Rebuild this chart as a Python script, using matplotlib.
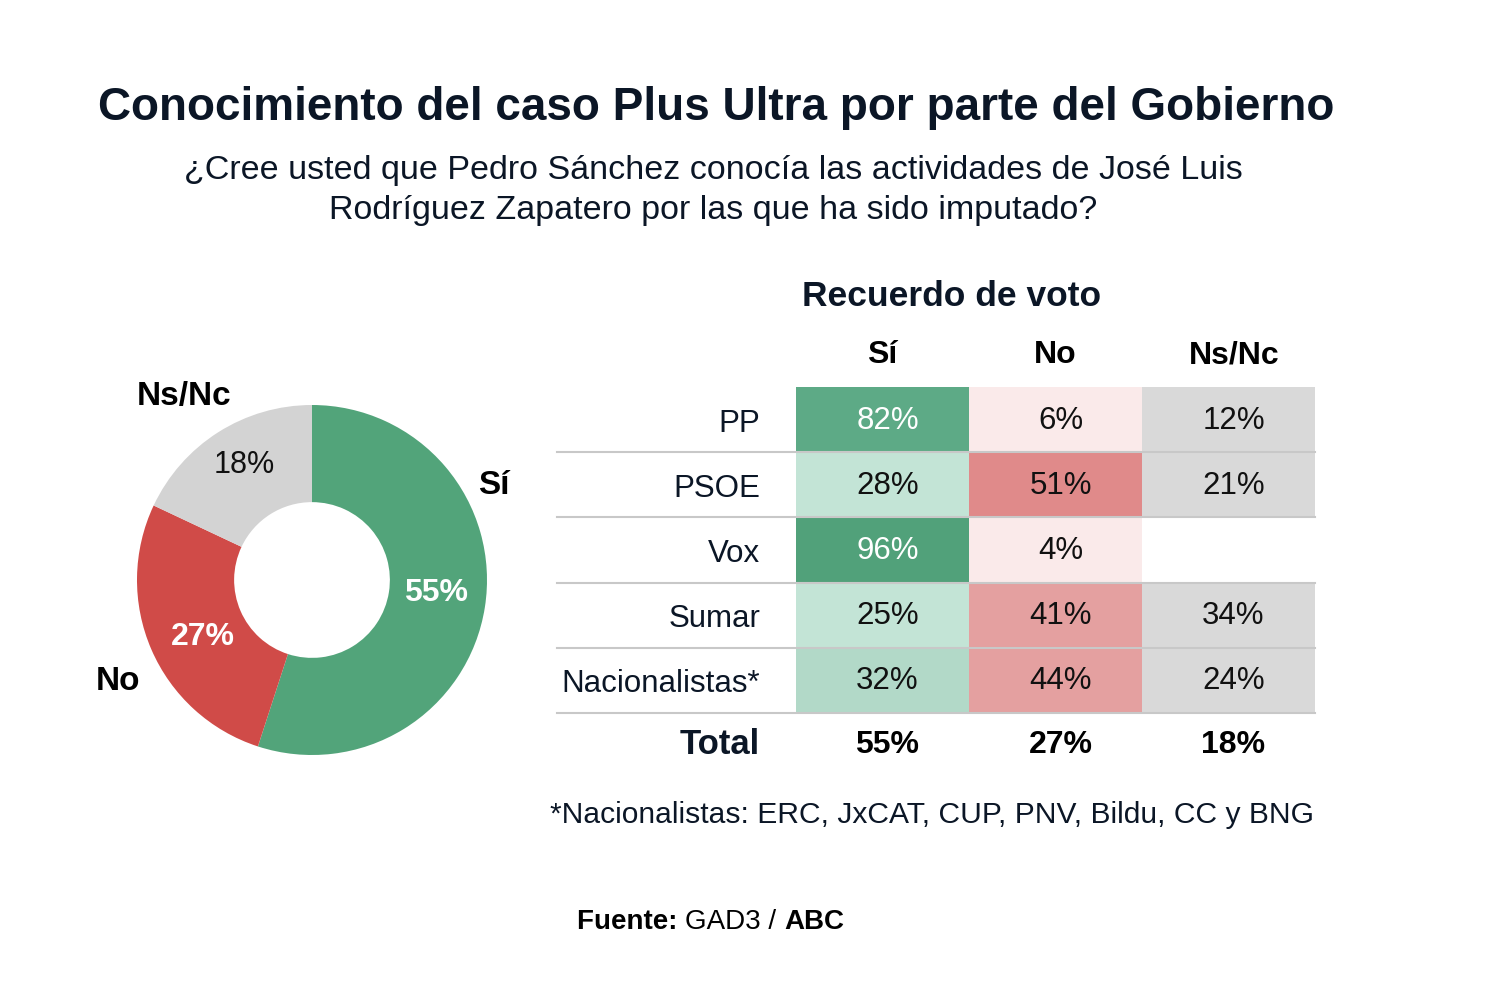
import numpy as np
import matplotlib.pyplot as plt
from matplotlib.patches import Rectangle

plt.rcParams['font.family'] = ['Liberation Sans', 'DejaVu Sans']

# datos del gráfico circular
pie_labels = ["Sí", "No", "Ns/Nc"]
pie_values = [55, 27, 18]
pie_colors = ["#52A47A", "#D04B48", "#D3D3D3"]

# datos de la tabla (recuerdo de voto)
parties = ["PP", "PSOE", "Vox", "Sumar", "Nacionalistas*"]
columns = ["Sí", "No", "Ns/Nc"]
si_vals = [82, 28, 96, 25, 32]
no_vals = [6, 51, 4, 41, 44]
ns_vals = [12, 21, None, 34, 24]
totals = [55, 27, 18]

si_colors = ["#5DAA86", "#C3E4D6", "#51A17A", "#C3E4D6", "#B2D9C8"]
no_colors = ["#FAEAEA", "#E08A8A", "#FAEAEA", "#E4A0A0", "#E4A0A0"]
ns_colors = ["#D9D9D9", "#D9D9D9", "#FFFFFF", "#D9D9D9", "#D9D9D9"]
si_text = ["white", "#111111", "white", "#111111", "#111111"]

navy = "#0B1626"

fig = plt.figure(figsize=(14.9, 10), dpi=100)
ax = fig.add_axes([0, 0, 1, 1])
ax.set_xlim(0, 1490)
ax.set_ylim(1000, 0)
ax.axis("off")

# titulos
ax.text(716, 108, "Conocimiento del caso Plus Ultra por parte del Gobierno",
        ha="center", va="center", fontsize=33, fontweight="bold", color=navy)
ax.text(713, 171, "¿Cree usted que Pedro Sánchez conocía las actividades de José Luis",
        ha="center", va="center", fontsize=24.5, color=navy)
ax.text(713, 211, "Rodríguez Zapatero por las que ha sido imputado?",
        ha="center", va="center", fontsize=24.5, color=navy)

# donut
axp = fig.add_axes([137 / 1490, 0.245, 350 / 1490, 0.35])
wedges, _ = axp.pie(pie_values, colors=pie_colors, startangle=90, counterclock=False,
                    radius=1, wedgeprops=dict(width=0.555, edgecolor="none"))
axp.set_xlim(-1, 1)
axp.set_ylim(-1, 1)
axp.set_aspect("equal")
axp.axis("off")
pct_offset = {"Sí": (0.0, 0.04), "No": (0.04, -0.04), "Ns/Nc": (0.0, 0.05)}
for w, v, lab in zip(wedges, pie_values, pie_labels):
    mid = np.deg2rad((w.theta1 + w.theta2) / 2)
    dx, dy = pct_offset[lab]
    x, y = 0.72 * np.cos(mid) + dx, 0.72 * np.sin(mid) + dy
    if lab == "Ns/Nc":
        axp.text(x, y, f"{v}%", ha="center", va="center", fontsize=22, color="#111111")
    else:
        axp.text(x, y, f"{v}%", ha="center", va="center", fontsize=23,
                 fontweight="bold", color="white")
outer_pos = {"Sí": (1.04, 0.54), "No": (-1.11, -0.58), "Ns/Nc": (-0.73, 1.05)}
for lab in pie_labels:
    axp.text(*outer_pos[lab], lab, ha="center", va="center", fontsize=24,
             fontweight="bold", color="black", clip_on=False)

# tabla
x0, cw = 796, 173
y0, rh = 387, 65.2
ax.text(952, 297, "Recuerdo de voto", ha="center", va="center",
        fontsize=25.5, fontweight="bold", color=navy)
head_dx = [0, 0, 6]
for j, c in enumerate(columns):
    ax.text(x0 + cw * j + cw / 2 + head_dx[j], 355, c, ha="center", va="center",
            fontsize=23, fontweight="bold", color="black")

cols_vals = [si_vals, no_vals, ns_vals]
cols_colors = [si_colors, no_colors, ns_colors]
for i, p in enumerate(parties):
    yt = y0 + rh * i
    ax.text(760, yt + rh / 2 + 4, p, ha="right", va="center", fontsize=22.5, color=navy)
    for j in range(3):
        ax.add_patch(Rectangle((x0 + cw * j, yt), cw, rh, color=cols_colors[j][i], lw=0))
        v = cols_vals[j][i]
        if v is not None:
            tc = si_text[i] if j == 0 else "#111111"
            ax.text(x0 + cw * j + cw / 2 + 5, yt + rh / 2 + 1, f"{v}%", ha="center",
                    va="center", fontsize=22.5, color=tc)
    ax.plot([557, 1315], [yt + rh, yt + rh], color="#C8C8C8", lw=1.5)

yt = y0 + rh * 5
ax.text(760, yt + 32, "Total", ha="right", va="center", fontsize=25,
        fontweight="bold", color=navy)
for j, t in enumerate(totals):
    ax.text(x0 + cw * j + cw / 2 + 5, yt + 32, f"{t}%", ha="center", va="center",
            fontsize=23, fontweight="bold", color="black")

ax.text(550, 815, "*Nacionalistas: ERC, JxCAT, CUP, PNV, Bildu, CC y BNG",
        ha="left", va="center", fontsize=21.6, color=navy)

# fuente
t1 = ax.text(577, 922, "Fuente: ", ha="left", va="center", fontsize=20,
             fontweight="bold", color="black")
fig.canvas.draw()
bb = t1.get_window_extent()
t2 = ax.text(bb.x1, 1000 - 922, "GAD3 / ", ha="left", va="center", fontsize=20,
             color="black", transform=None)
fig.canvas.draw()
bb2 = t2.get_window_extent()
ax.text(bb2.x1, 1000 - 922, "ABC", ha="left", va="center", fontsize=20,
        fontweight="bold", color="black", transform=None)

fig.savefig("out.png", dpi=100)
